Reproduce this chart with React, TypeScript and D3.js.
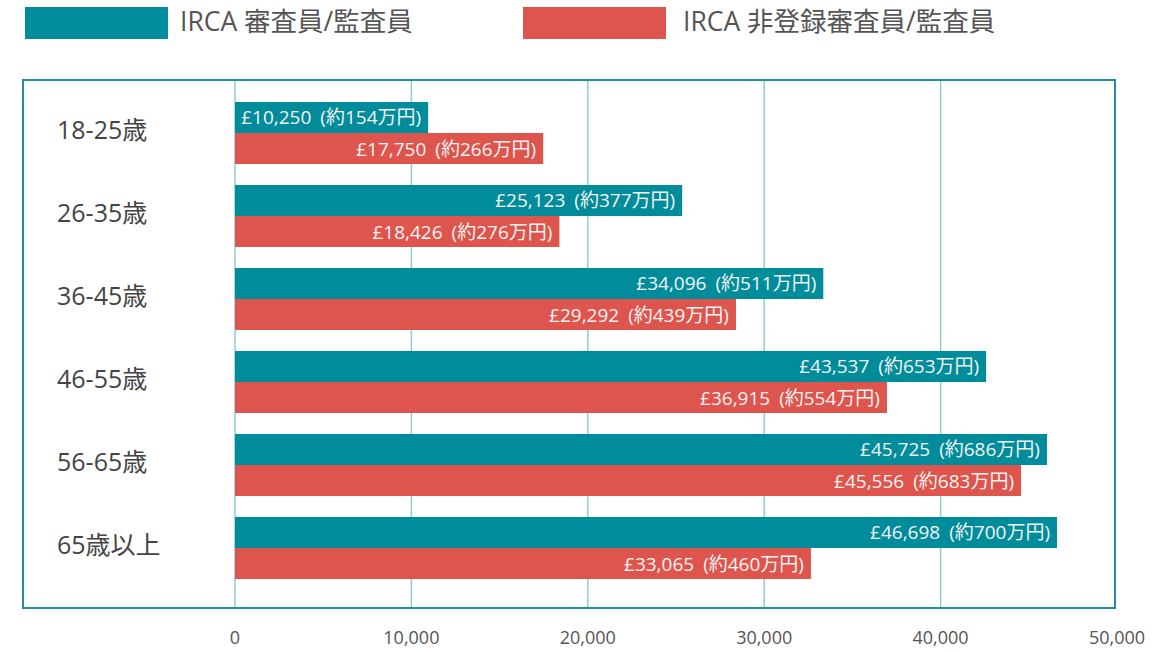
import React from 'react';
import * as d3 from 'd3';

const categories = ['18-25歳', '26-35歳', '36-45歳', '46-55歳', '56-65歳', '65歳以上'];
const seriesNames = ['IRCA 審査員/監査員', 'IRCA 非登録審査員/監査員'];
const ircaValues = [10950, 25350, 33350, 42580, 46030, 46600];
const nonValues = [17470, 18390, 28400, 36960, 44560, 32650];
const ircaPounds = ['£10,250', '£25,123', '£34,096', '£43,537', '£45,725', '£46,698'];
const ircaYen = ['(約154万円)', '(約377万円)', '(約511万円)', '(約653万円)', '(約686万円)', '(約700万円)'];
const nonPounds = ['£17,750', '£18,426', '£29,292', '£36,915', '£45,556', '£33,065'];
const nonYen = ['(約266万円)', '(約276万円)', '(約439万円)', '(約554万円)', '(約683万円)', '(約460万円)'];
const tickValues = [0, 10000, 20000, 30000, 40000, 50000];

const TEAL = '#008c9b';
const RED = '#dd554d';
const GRID = '#8ecdd5';
const FRAME = '#1f8f9e';
const FONT = '"Open Sans", "Noto Sans CJK JP", sans-serif';

export default function App() {
  const W = 1163, H = 652;
  const frame = { x0: 23, y0: 80, x1: 1115, y1: 608 };
  const x = d3.scaleLinear().domain([0, 50000]).range([235, 1117]);
  const y = d3.scaleBand<string>().domain(categories).range([91.5, 589.5]).paddingInner(0.253).paddingOuter(0.1265);
  const bh = y.bandwidth() / 2;
  const fmt = d3.format(',');
  const series = [
    { name: seriesNames[0], color: TEAL, values: ircaValues, pounds: ircaPounds, yen: ircaYen },
    { name: seriesNames[1], color: RED, values: nonValues, pounds: nonPounds, yen: nonYen },
  ];
  const legendX = [25, 523];
  const legendTextX = [180, 683];

  return (
    <div style={{ position: 'absolute', left: 0, top: 0 }}>
      <svg width={W} height={H} style={{ display: 'block', fontFamily: FONT }}>
        <rect x={0} y={0} width={W} height={H} fill="#fff" />
        {series.map((s, i) => (
          <g key={s.name}>
            <rect x={legendX[i]} y={7} width={143} height={32} fill={s.color} />
            <text x={legendTextX[i]} y={21} fontSize={26.5} fill="#555" dominantBaseline="central">{s.name}</text>
          </g>
        ))}
        {tickValues.filter(t => t < 50000).map(t => (
          <line key={t} x1={x(t)} x2={x(t)} y1={frame.y0} y2={frame.y1} stroke={GRID} strokeWidth={1.5} />
        ))}
        {categories.map((c, i) => {
          const y0 = y(c)!;
          return (
            <g key={c}>
              <text x={57} y={y0 + y.bandwidth() / 2 - 4} fontSize={25} fill="#444" dominantBaseline="central">{c}</text>
              {series.map((s, j) => (
                <g key={s.name}>
                  <rect x={x(0)} y={y0 + j * bh} width={x(s.values[i]) - x(0)} height={bh} fill={s.color} />
                  <text x={x(s.values[i]) - 7} y={y0 + j * bh + bh / 2} fontSize={19} fill="#f4f4f4" textAnchor="end" dominantBaseline="central">
                    <tspan>{s.pounds[i]}</tspan>
                    <tspan dx={9}>{s.yen[i]}</tspan>
                  </text>
                </g>
              ))}
            </g>
          );
        })}
        <rect x={frame.x0} y={frame.y0} width={frame.x1 - frame.x0} height={frame.y1 - frame.y0} fill="none" stroke={FRAME} strokeWidth={2} />
        {tickValues.map(t => (
          <text key={t} x={x(t)} y={637} fontSize={18} fill="#555" textAnchor="middle" dominantBaseline="central">{fmt(t)}</text>
        ))}
      </svg>
    </div>
  );
}
